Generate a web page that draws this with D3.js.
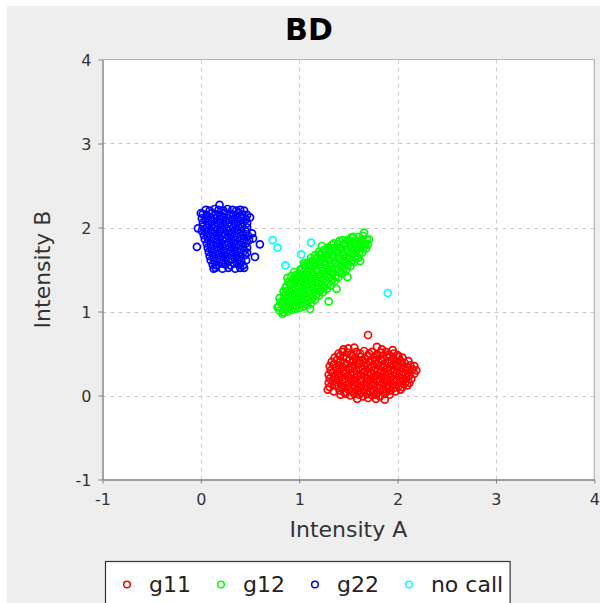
<!DOCTYPE html>
<html><head><meta charset="utf-8">
<script src="https://cdn.jsdelivr.net/npm/d3@7"></script>
<style>body{margin:0;background:#fff}svg{display:block}</style>
</head><body><svg id="c" width="600" height="603"></svg>
<script>
const chartTitle = "BD";
const xLabel = "Intensity A";
const yLabel = "Intensity B";
const xTicks = [-1, 0, 1, 2, 3, 4];
const yTicks = [-1, 0, 1, 2, 3, 4];
const seriesNames = ["g11", "g12", "g22", "no call"];
const seriesColors = ["#ff0000", "#00ff00", "#0000ff", "#00ffff"];

const g11 = [
[1.40,0.50],[1.44,0.52],[1.49,0.51],[1.53,0.49],[1.58,0.52],[1.62,0.50],[1.66,0.53],[1.71,0.50],[1.74,0.52],[1.79,0.49],[1.83,0.51],[1.88,0.52],[1.91,0.49],[1.96,0.50],[2.00,0.48],
[1.36,0.45],[1.41,0.47],[1.45,0.46],[1.48,0.44],[1.54,0.47],[1.57,0.45],[1.62,0.46],[1.67,0.44],[1.70,0.47],[1.76,0.45],[1.79,0.47],[1.83,0.44],[1.89,0.46],[1.92,0.47],[1.96,0.44],[2.01,0.46],[2.05,0.45],
[1.33,0.40],[1.38,0.42],[1.42,0.41],[1.46,0.39],[1.51,0.42],[1.55,0.40],[1.59,0.41],[1.64,0.42],[1.68,0.39],[1.72,0.41],[1.77,0.42],[1.81,0.40],[1.85,0.41],[1.90,0.39],[1.94,0.42],[1.98,0.40],[2.03,0.41],[2.07,0.39],[2.11,0.41],
[1.31,0.35],[1.35,0.37],[1.40,0.36],[1.44,0.34],[1.48,0.37],[1.53,0.35],[1.57,0.36],[1.61,0.38],[1.66,0.35],[1.70,0.36],[1.74,0.34],[1.79,0.37],[1.83,0.35],[1.87,0.36],[1.92,0.34],[1.96,0.37],[2.00,0.35],[2.05,0.36],[2.09,0.34],[2.13,0.36],[2.17,0.35],
[1.32,0.30],[1.37,0.32],[1.41,0.31],[1.45,0.29],[1.50,0.31],[1.54,0.32],[1.58,0.30],[1.63,0.31],[1.67,0.29],[1.71,0.32],[1.76,0.30],[1.80,0.31],[1.84,0.29],[1.89,0.32],[1.93,0.30],[1.97,0.31],[2.02,0.29],[2.06,0.32],[2.10,0.30],[2.15,0.31],[2.19,0.30],
[1.30,0.25],[1.34,0.27],[1.39,0.26],[1.43,0.24],[1.47,0.27],[1.52,0.25],[1.56,0.26],[1.60,0.24],[1.65,0.27],[1.69,0.25],[1.73,0.26],[1.78,0.24],[1.82,0.27],[1.86,0.25],[1.91,0.26],[1.95,0.24],[1.99,0.27],[2.04,0.25],[2.08,0.26],[2.12,0.24],[2.17,0.26],
[1.31,0.20],[1.36,0.22],[1.40,0.21],[1.44,0.19],[1.49,0.22],[1.53,0.20],[1.57,0.21],[1.62,0.19],[1.66,0.22],[1.70,0.20],[1.75,0.21],[1.79,0.19],[1.83,0.22],[1.88,0.20],[1.92,0.21],[1.96,0.19],[2.01,0.22],[2.05,0.20],[2.09,0.21],[2.14,0.20],
[1.30,0.15],[1.34,0.17],[1.38,0.16],[1.43,0.14],[1.47,0.17],[1.51,0.15],[1.56,0.16],[1.60,0.14],[1.64,0.17],[1.69,0.15],[1.73,0.16],[1.77,0.14],[1.82,0.17],[1.86,0.15],[1.90,0.16],[1.95,0.14],[1.99,0.17],[2.03,0.15],[2.08,0.16],[2.12,0.15],
[1.31,0.10],[1.36,0.12],[1.40,0.11],[1.44,0.09],[1.49,0.12],[1.53,0.10],[1.57,0.11],[1.62,0.09],[1.66,0.12],[1.70,0.10],[1.75,0.11],[1.79,0.09],[1.83,0.12],[1.88,0.10],[1.92,0.11],[1.96,0.09],[2.01,0.11],[2.05,0.10],[2.10,0.12],
[1.29,0.07],[1.35,0.05],[1.41,0.06],[1.46,0.04],[1.50,0.07],[1.54,0.05],[1.59,0.06],[1.63,0.04],[1.67,0.07],[1.72,0.05],[1.76,0.06],[1.80,0.04],[1.85,0.07],[1.89,0.05],[1.93,0.06],[1.98,0.05],[2.03,0.07],
[1.42,0.01],[1.47,0.02],[1.52,0.00],[1.56,0.02],[1.61,0.01],[1.65,-0.01],[1.69,0.02],[1.74,0.00],[1.78,0.01],[1.82,-0.01],[1.87,0.02],[1.92,0.01],
[1.59,-0.04],[1.70,-0.03],[1.78,-0.04],[1.87,-0.05],
[1.45,0.55],[1.50,0.56],[1.56,0.57],[1.79,0.58],[1.84,0.55],[1.95,0.54],[1.70,0.72]
];

const g12 = [
[0.80,1.01],[0.79,1.06],[0.81,1.11],[0.80,1.16],
[0.84,0.99],[0.85,1.04],[0.83,1.09],[0.84,1.14],[0.85,1.19],[0.84,1.24],[0.86,1.28],
[0.88,1.00],[0.89,1.05],[0.87,1.10],[0.88,1.15],[0.89,1.20],[0.88,1.25],[0.87,1.30],[0.89,1.35],
[0.92,1.02],[0.93,1.07],[0.91,1.12],[0.92,1.17],[0.93,1.22],[0.92,1.27],[0.91,1.32],[0.93,1.37],[0.92,1.42],
[0.96,1.03],[0.97,1.08],[0.95,1.13],[0.96,1.18],[0.97,1.23],[0.96,1.28],[0.95,1.33],[0.97,1.38],[0.96,1.43],[0.95,1.47],
[1.00,1.04],[1.01,1.09],[0.99,1.14],[1.00,1.19],[1.01,1.24],[1.00,1.29],[0.99,1.34],[1.01,1.39],[1.00,1.44],[1.01,1.50],
[1.04,1.06],[1.05,1.11],[1.03,1.16],[1.04,1.21],[1.05,1.26],[1.04,1.31],[1.03,1.36],[1.05,1.41],[1.04,1.46],[1.03,1.51],[1.05,1.55],
[1.08,1.08],[1.09,1.13],[1.07,1.18],[1.08,1.23],[1.09,1.28],[1.08,1.33],[1.07,1.38],[1.09,1.43],[1.08,1.48],[1.07,1.53],[1.09,1.58],
[1.12,1.10],[1.13,1.15],[1.11,1.20],[1.12,1.25],[1.13,1.30],[1.12,1.35],[1.11,1.40],[1.13,1.45],[1.12,1.50],[1.11,1.55],[1.13,1.60],[1.12,1.64],
[1.16,1.14],[1.17,1.19],[1.15,1.24],[1.16,1.29],[1.17,1.34],[1.16,1.39],[1.15,1.44],[1.17,1.49],[1.16,1.54],[1.15,1.59],[1.17,1.63],[1.16,1.67],
[1.20,1.19],[1.21,1.24],[1.19,1.29],[1.20,1.34],[1.21,1.39],[1.20,1.44],[1.19,1.49],[1.21,1.54],[1.20,1.59],[1.19,1.64],[1.21,1.68],[1.20,1.71],
[1.24,1.23],[1.25,1.28],[1.23,1.33],[1.24,1.38],[1.25,1.43],[1.24,1.48],[1.23,1.53],[1.25,1.58],[1.24,1.63],[1.23,1.68],[1.25,1.73],
[1.28,1.27],[1.29,1.32],[1.27,1.37],[1.28,1.42],[1.29,1.47],[1.28,1.52],[1.27,1.57],[1.29,1.62],[1.28,1.67],[1.27,1.72],[1.29,1.76],
[1.32,1.31],[1.33,1.36],[1.31,1.41],[1.32,1.46],[1.33,1.51],[1.32,1.56],[1.31,1.61],[1.33,1.66],[1.32,1.71],[1.31,1.75],[1.33,1.79],
[1.36,1.36],[1.37,1.41],[1.35,1.46],[1.36,1.51],[1.37,1.56],[1.36,1.61],[1.35,1.66],[1.37,1.71],[1.36,1.76],[1.35,1.81],
[1.40,1.41],[1.41,1.46],[1.39,1.51],[1.40,1.56],[1.41,1.61],[1.40,1.66],[1.39,1.71],[1.41,1.76],[1.40,1.80],[1.41,1.84],
[1.44,1.45],[1.45,1.50],[1.43,1.55],[1.44,1.60],[1.45,1.65],[1.44,1.70],[1.43,1.75],[1.45,1.80],[1.44,1.85],
[1.48,1.50],[1.49,1.55],[1.47,1.60],[1.48,1.65],[1.49,1.70],[1.48,1.75],[1.47,1.80],[1.49,1.85],
[1.52,1.54],[1.53,1.59],[1.51,1.64],[1.52,1.69],[1.53,1.74],[1.52,1.79],[1.51,1.84],[1.53,1.88],
[1.56,1.59],[1.57,1.64],[1.55,1.69],[1.56,1.74],[1.57,1.79],[1.56,1.84],[1.55,1.89],
[1.60,1.64],[1.61,1.69],[1.59,1.74],[1.60,1.79],[1.61,1.84],[1.60,1.89],
[1.64,1.70],[1.65,1.75],[1.63,1.80],[1.64,1.85],[1.65,1.90],
[1.68,1.75],[1.67,1.80],[1.69,1.85],
[1.30,1.12],[1.11,1.03],[1.70,1.80],[1.62,1.60],[1.49,1.41],[1.66,1.94],[0.83,0.97],[0.78,1.05],[1.23,1.78],[1.38,1.27],[1.71,1.86],[1.05,1.58],[0.88,1.40]
];

const g22 = [
[0.05,2.21],[0.09,2.20],[0.14,2.22],[0.18,2.21],[0.23,2.20],[0.27,2.22],[0.32,2.21],[0.36,2.20],[0.40,2.21],[0.44,2.20],
[0.02,2.16],[0.06,2.15],[0.11,2.17],[0.15,2.16],[0.20,2.15],[0.24,2.17],[0.29,2.16],[0.33,2.15],[0.38,2.17],[0.42,2.16],[0.47,2.15],
[0.01,2.11],[0.05,2.10],[0.10,2.12],[0.14,2.11],[0.19,2.10],[0.23,2.12],[0.28,2.11],[0.32,2.10],[0.37,2.12],[0.41,2.11],[0.46,2.10],
[0.02,2.06],[0.07,2.05],[0.11,2.07],[0.16,2.06],[0.20,2.05],[0.25,2.07],[0.29,2.06],[0.34,2.05],[0.38,2.07],[0.43,2.06],[0.47,2.05],
[0.02,2.01],[0.06,2.00],[0.11,2.02],[0.15,2.01],[0.20,2.00],[0.24,2.02],[0.29,2.01],[0.33,2.00],[0.38,2.02],[0.42,2.01],[0.47,2.00],
[0.01,1.96],[0.05,1.95],[0.10,1.97],[0.14,1.96],[0.19,1.95],[0.23,1.97],[0.28,1.96],[0.32,1.95],[0.37,1.97],[0.41,1.96],[0.46,1.95],
[0.03,1.91],[0.07,1.90],[0.12,1.92],[0.16,1.91],[0.21,1.90],[0.25,1.92],[0.30,1.91],[0.34,1.90],[0.39,1.92],[0.43,1.91],[0.48,1.90],
[0.04,1.86],[0.08,1.85],[0.13,1.87],[0.17,1.86],[0.22,1.85],[0.26,1.87],[0.31,1.86],[0.35,1.85],[0.40,1.87],[0.44,1.86],[0.49,1.85],
[0.06,1.81],[0.10,1.80],[0.15,1.82],[0.19,1.81],[0.24,1.80],[0.28,1.82],[0.33,1.81],[0.37,1.80],[0.42,1.82],[0.46,1.81],
[0.07,1.76],[0.11,1.75],[0.16,1.77],[0.20,1.76],[0.25,1.75],[0.29,1.77],[0.34,1.76],[0.38,1.75],[0.43,1.77],[0.47,1.76],
[0.08,1.71],[0.12,1.70],[0.17,1.72],[0.21,1.71],[0.26,1.70],[0.30,1.72],[0.35,1.71],[0.39,1.70],[0.44,1.72],[0.47,1.70],
[0.09,1.66],[0.13,1.65],[0.18,1.67],[0.22,1.66],[0.27,1.65],[0.31,1.67],[0.36,1.66],[0.40,1.65],[0.45,1.67],
[0.10,1.61],[0.14,1.60],[0.19,1.62],[0.23,1.61],[0.28,1.60],[0.32,1.62],[0.37,1.61],[0.41,1.60],[0.46,1.61],
[0.12,1.56],[0.16,1.55],[0.21,1.57],[0.25,1.56],[0.30,1.55],[0.34,1.57],[0.39,1.56],[0.43,1.55],
[0.15,1.52],[0.22,1.51],[0.28,1.52],[0.35,1.51],[0.40,1.52],
[-0.04,1.77],[-0.03,1.99],[0.19,2.27],[0.53,1.87],[0.60,1.80],[0.55,1.65],[0.52,1.93],[0.13,1.51],[0.44,1.52],[0.50,2.12],[0.00,2.17]
];

const noCall = [[0.73,1.85],[0.78,1.76],[0.86,1.55],[1.02,1.68],[1.12,1.82],[1.90,1.22]];

const seriesData = [g11, g12, g22, noCall];

const FONT = "DejaVu Sans, Verdana, sans-serif";
const svg = d3.select("#c");

// chart background
svg.append("rect").attr("x", 7).attr("y", 6).attr("width", 593).attr("height", 597).attr("fill", "#eeeeee");

const L = 102.5, R = 594.3, T = 59.5, B = 479.5;
const x = d3.scaleLinear().domain([-1, 4]).range([L, R]);
const y = d3.scaleLinear().domain([-1, 4]).range([B, T]);

// plot area
svg.append("rect").attr("x", L).attr("y", T).attr("width", R - L).attr("height", B - T).attr("fill", "#ffffff");

// gridlines
const grid = svg.append("g").attr("stroke", "#cccccc").attr("stroke-width", 1).attr("stroke-dasharray", "4,4");
grid.selectAll("line.vx").data(xTicks.filter(d => d > -1 && d < 4)).enter().append("line")
  .attr("x1", d => Math.round(x(d)) + 0.5).attr("x2", d => Math.round(x(d)) + 0.5).attr("y1", T).attr("y2", B);
grid.selectAll("line.hy").data(yTicks.filter(d => d > -1 && d < 4)).enter().append("line")
  .attr("y1", d => Math.round(y(d)) + 0.5).attr("y2", d => Math.round(y(d)) + 0.5).attr("x1", L).attr("x2", R);

// plot outline top/right
svg.append("path").attr("d", `M${L},${T}H${R}V${B}`).attr("fill", "none").attr("stroke", "#b4b4b4").attr("stroke-width", 1.2);

// points (JFreeChart default: reverse series order)
const pts = svg.append("g");
for (let s = seriesData.length - 1; s >= 0; s--) {
  pts.append("g").selectAll("circle").data(seriesData[s]).enter().append("circle")
    .attr("cx", d => x(d[0])).attr("cy", d => y(d[1])).attr("r", 3.5)
    .attr("fill", "none").attr("stroke", seriesColors[s]).attr("stroke-width", 1.7);
}

// axes
const ax = svg.append("g").attr("transform", `translate(0,${B})`)
  .call(d3.axisBottom(x).tickValues(xTicks).tickSize(4).tickSizeOuter(0).tickPadding(10).tickFormat(d => String(d)));
const ay = svg.append("g").attr("transform", `translate(${L},0)`)
  .call(d3.axisLeft(y).tickValues(yTicks).tickSize(4).tickSizeOuter(0).tickPadding(7).tickFormat(d => String(d)));
[ax, ay].forEach(a => {
  a.select(".domain").attr("stroke", "#808080").attr("stroke-width", 1.4);
  a.selectAll(".tick line").attr("stroke", "#808080");
  a.selectAll(".tick text").attr("fill", "#333").style("font-family", FONT).style("font-size", "16px");
});
ay.selectAll(".tick text").attr("dy", "0.36em");

// titles
svg.append("text").attr("x", 309).attr("y", 40).attr("text-anchor", "middle")
  .style("font-family", FONT).style("font-size", "30px").style("font-weight", "bold").attr("fill", "#000").text(chartTitle);
svg.append("text").attr("x", (L + R) / 2).attr("y", 537).attr("text-anchor", "middle")
  .style("font-family", FONT).style("font-size", "22px").attr("fill", "#333").text(xLabel);
svg.append("text").attr("transform", `translate(50,${(T + B) / 2}) rotate(-90)`).attr("text-anchor", "middle")
  .style("font-family", FONT).style("font-size", "22px").attr("fill", "#333").text(yLabel);

// legend
const lg = svg.append("g");
const box = lg.append("rect").attr("fill", "#ffffff").attr("stroke", "#333").attr("stroke-width", 1.2);
let cx = 127;
let lastEnd = 0;
seriesNames.forEach((name, i) => {
  lg.append("circle").attr("cx", cx).attr("cy", 584.5).attr("r", 3.3).attr("fill", "none")
    .attr("stroke", seriesColors[i]).attr("stroke-width", 1.5);
  const t = lg.append("text").attr("x", cx + 22).attr("y", 592).style("font-family", FONT)
    .style("font-size", "22px").attr("fill", "#222").text(name);
  const w = t.node().getComputedTextLength();
  lastEnd = cx + 22 + w;
  cx = lastEnd + 30;
});
box.attr("x", 105.5).attr("y", 561.5).attr("width", lastEnd + 7 - 105.5).attr("height", 50);
</script>
</body></html>
